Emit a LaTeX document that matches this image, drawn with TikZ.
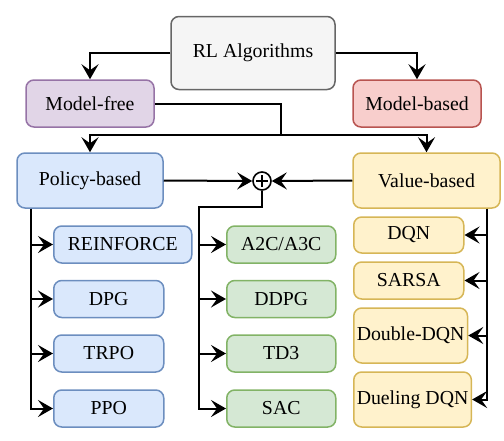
\documentclass[tikz,border=0pt]{standalone}
\usepackage{fontspec}
\setmainfont{Liberation Serif}
\usetikzlibrary{arrows.meta}
\definecolor{rootfill}{HTML}{F5F5F5}\definecolor{rootline}{HTML}{666666}
\definecolor{freefill}{HTML}{E1D5E7}\definecolor{freeline}{HTML}{9673A6}
\definecolor{basedfill}{HTML}{F8CECC}\definecolor{basedline}{HTML}{B85450}
\definecolor{polfill}{HTML}{DAE8FC}\definecolor{polline}{HTML}{6C8EBF}
\definecolor{valfill}{HTML}{FFF2CC}\definecolor{valline}{HTML}{D6B656}
\definecolor{acfill}{HTML}{D5E8D4}\definecolor{acline}{HTML}{82B366}
\begin{document}
\begin{tikzpicture}[x=0.5pt,y=-0.5pt,font=\fontsize{9.9}{12}\selectfont,
    box/.style={draw,rounded corners=4pt,line width=0.75pt,align=center,inner sep=1.5pt},
    link/.style={line width=1pt,-{Stealth[length=7.5pt,width=8.5pt,inset=3pt]}}]
    \useasboundingbox (0,0) rectangle (504,440);
    %% Top levels
    \node[box,fill=rootfill,draw=rootline,minimum width=82pt,minimum height=36.5pt]
        (root) at (253,53) {RL Algorithms};
    \node[box,fill=freefill,draw=freeline,minimum width=64pt,minimum height=23.5pt]
        (free) at (90,103.5) {Model-free};
    \node[box,fill=basedfill,draw=basedline,minimum width=64pt,minimum height=23.5pt]
        (based) at (417,103.5) {Model-based};
    \node[box,fill=polfill,draw=polline,minimum width=73pt,minimum height=27.5pt]
        (policy) at (90,180.5) {Policy-based};
    \node[box,fill=valfill,draw=valline,minimum width=73.5pt,minimum height=27.5pt]
        (value) at (426.5,180.5) {Value-based};
    \node[circle,draw,line width=0.8pt,minimum size=9pt,inner sep=0pt,
        path picture={\draw[line width=0.6pt]
            ([yshift=-1.5pt]path picture bounding box.north) -- ([yshift=1.5pt]path picture bounding box.south)
            ([xshift=1.5pt]path picture bounding box.west) -- ([xshift=-1.5pt]path picture bounding box.east);}]
        (sum) at (262,181) {};
    \draw[link] (root.west) -| (free.north);
    \draw[link] (root.east) -| (based.north);
    \coordinate (split) at (281,135);
    \draw[line width=1pt] (free.east) -| (split);
    \draw[link] (split) -| (policy.north);
    \draw[link] (split) -| (value.north);
    \draw[link] (policy.east) -- (sum.west);
    \draw[link] (value.west) -- (sum.east);
    %% Policy-based methods
    \foreach \name/\lbl/\y in {reinforce/REINFORCE/244.5,dpg/DPG/299,trpo/TRPO/353.5,ppo/PPO/408.5}{
        \node[box,fill=polfill,draw=polline,anchor=west,inner xsep=7pt,
            minimum width=55pt,minimum height=18.5pt] (\name) at (53,\y) {\lbl};
        \draw[link] ([xshift=7.5pt]policy.south west) |- (\name.west);
    }
    %% Actor-critic methods
    \coordinate (ac) at (199,207);
    \foreach \name/\lbl/\y in {atwoc/A2C\slash A3C/244.5,ddpg/DDPG/299,tdthree/TD3/353.5,sac/SAC/408.5}{
        \node[box,fill=acfill,draw=acline,anchor=west,
            minimum width=54.5pt,minimum height=18.5pt] (\name) at (226,\y) {\lbl};
        \draw[link] (sum.south) |- (ac) |- (\name.west);
    }
    %% Value-based methods
    \foreach \name/\lbl/\y/\h in {dqn/DQN/235/18,sarsa/SARSA/280.5/18.5,ddqn/Double-DQN/335.5/27.5,duel/Dueling DQN/399.5/27.5}{
        \node[box,fill=valfill,draw=valline,anchor=west,
            minimum width=55pt,minimum height=\h pt] (\name) at (353,\y) {\lbl};
        \draw[link] ([xshift=-7pt]value.south east) |- (\name.east);
    }
\end{tikzpicture}
\end{document}
